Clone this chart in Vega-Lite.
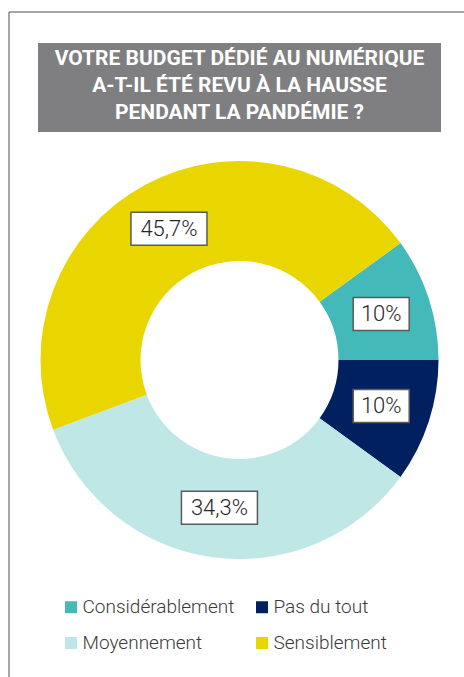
{
  "$schema": "https://vega.github.io/schema/vega-lite/v6.json",
  "width": 464,
  "height": 677,
  "autosize": {"type": "fit", "contains": "padding"},
  "padding": {"left": 8.5, "top": 11.5, "right": -6.5, "bottom": -31.5},
  "background": "white",
  "config": {"view": {"stroke": "#4d4d4d", "strokeWidth": 1}},
  "data": {
    "values": [
      {"reponse": "Considérablement", "pct": 10, "label": "10%"},
      {"reponse": "Pas du tout", "pct": 10, "label": "10%"},
      {"reponse": "Moyennement", "pct": 34.3, "label": "34,3%"},
      {"reponse": "Sensiblement", "pct": 45.7, "label": "45,7%"}
    ]
  },
  "layer": [
    {
      "data": {"values": [{"titre": ["VOTRE BUDGET DÉDIÉ AU NUMÉRIQUE", "A-T-IL ÉTÉ REVU À LA HAUSSE", "PENDANT LA PANDÉMIE ?"]}]},
      "layer": [
        {
          "mark": {"type": "rect", "color": "#7f7f82"},
          "encoding": {
            "x": {"datum": -201.5, "type": "quantitative", "scale": {"domain": [-231, 231], "nice": false, "zero": false}, "axis": null},
            "x2": {"datum": 201.5},
            "y": {"datum": 317, "type": "quantitative", "scale": {"domain": [-348.5, 348.5], "nice": false, "zero": false}, "axis": null},
            "y2": {"datum": 228}
          }
        },
        {
          "mark": {"type": "text", "font": "Roboto", "fontSize": 21, "fontWeight": "bold", "color": "#ffffff", "align": "center", "baseline": "middle", "lineHeight": 27.2},
          "encoding": {
            "x": {"datum": 0, "type": "quantitative", "scale": {"domain": [-231, 231], "nice": false, "zero": false}, "axis": null},
            "y": {"datum": 301, "type": "quantitative", "scale": {"domain": [-348.5, 348.5], "nice": false, "zero": false}, "axis": null},
            "text": {"field": "titre"}
          }
        }
      ]
    },
    {
      "mark": {"type": "arc", "radius": 199, "radius2": 99},
      "encoding": {
        "theta": {"field": "pct", "type": "quantitative", "stack": true, "scale": {"range": [0.9425, 7.2257]}},
        "order": {"field": "pct", "sort": "ascending"},
        "color": {
          "field": "reponse",
          "type": "nominal",
          "scale": {
            "domain": ["Considérablement", "Moyennement", "Pas du tout", "Sensiblement"],
            "range": ["#43b9ba", "#bee7e6", "#012060", "#e9d600"]
          },
          "legend": {
            "orient": "none",
            "legendX": 53,
            "legendY": 586,
            "columns": 2,
            "title": null,
            "symbolType": "square",
            "symbolSize": 144,
            "symbolStrokeWidth": 0,
            "symbolOpacity": 1,
            "labelFont": "Roboto",
            "labelFontSize": 19,
            "labelFontWeight": 300,
            "labelColor": "#3a3a3a",
            "labelOffset": 2,
            "labelLimit": 300,
            "columnPadding": 18,
            "rowPadding": 16
          }
        }
      }
    },
    {
      "transform": [
        {"window": [{"op": "sum", "field": "pct", "as": "cum"}], "sort": [{"field": "pct"}], "ignorePeers": true},
        {"calculate": "0.9425 + 2 * PI * (datum.cum - datum.pct / 2) / 100", "as": "ang"},
        {"calculate": "149 * sin(datum.ang)", "as": "lx"},
        {"calculate": "149 * cos(datum.ang)", "as": "ly"},
        {"calculate": "13 + 5 * length(datum.label)", "as": "hw"},
        {"calculate": "datum.lx - datum.hw", "as": "bx1"},
        {"calculate": "datum.lx + datum.hw", "as": "bx2"},
        {"calculate": "datum.ly - 16.5", "as": "by1"},
        {"calculate": "datum.ly + 16.5", "as": "by2"}
      ],
      "layer": [
        {
          "mark": {"type": "rect", "fill": "#ffffff", "stroke": "#5a5a5a", "strokeWidth": 1.5},
          "encoding": {
            "x": {"field": "bx1", "type": "quantitative", "scale": {"domain": [-231, 231], "nice": false, "zero": false}, "axis": null},
            "x2": {"field": "bx2"},
            "y": {"field": "by1", "type": "quantitative", "scale": {"domain": [-348.5, 348.5], "nice": false, "zero": false}, "axis": null},
            "y2": {"field": "by2"}
          }
        },
        {
          "mark": {"type": "text", "font": "Roboto", "fontSize": 22, "fontWeight": 300, "color": "#262626", "baseline": "middle", "align": "center"},
          "encoding": {
            "x": {"field": "lx", "type": "quantitative", "scale": {"domain": [-231, 231], "nice": false, "zero": false}, "axis": null},
            "y": {"field": "ly", "type": "quantitative", "scale": {"domain": [-348.5, 348.5], "nice": false, "zero": false}, "axis": null},
            "text": {"field": "label"}
          }
        }
      ]
    }
  ]
}
